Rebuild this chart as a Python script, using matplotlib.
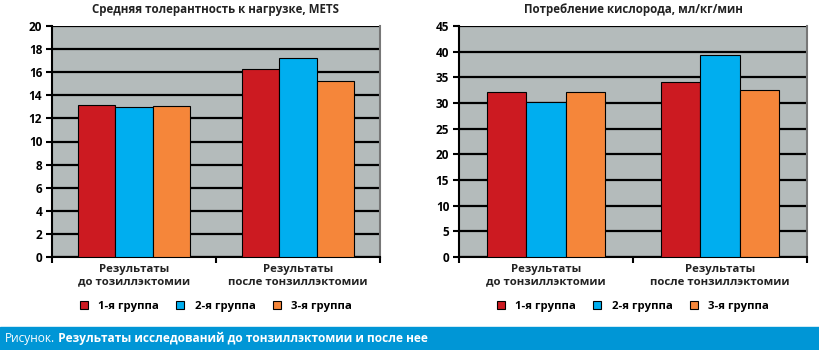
import numpy as np
import matplotlib.pyplot as plt
from matplotlib.patches import Rectangle

categories = ["Результаты\nдо тозиллэктомии", "Результаты\nпосле тонзиллэктомии"]
categories_right = ["Результаты\nдо тонзиллэктомии", "Результаты\nпосле тонзиллэктомии"]
groups = ["1-я группа", "2-я группа", "3-я группа"]
mets = [[13.2, 16.3], [12.95, 17.25], [13.05, 15.2]]
oxygen = [[32.1, 34.0], [30.1, 39.3], [32.1, 32.5]]
title_left = "Средняя толерантность к нагрузке, METS"
title_right = "Потребление кислорода, мл/кг/мин"
caption_a = "Рисунок."
caption_b = " Результаты исследований до тонзиллэктомии и после нее"

colors = ["#cc1a21", "#00aeef", "#f5863a"]
bg = "#b4bbbb"

plt.rcParams['font.family'] = ['Open Sans', 'DejaVu Sans']

fig = plt.figure(figsize=(8.19, 3.5), dpi=100)


def draw(ax, data, labels, title, ymax, step):
    x = np.arange(len(labels))
    w = 0.227
    for i, vals in enumerate(data):
        ax.bar(x + (i - 1) * w, vals, w, color=colors[i], edgecolor="black",
               linewidth=0.8, zorder=3, label=groups[i])
    ax.set_facecolor(bg)
    ax.set_xlim(-0.5, 1.5)
    ax.set_ylim(0, ymax)
    ax.set_yticks(np.arange(0, ymax + 1, step))
    ax.yaxis.grid(True, color="black", linewidth=1.6, zorder=1)
    ax.set_axisbelow(True)
    ax.set_xticks([-0.5, 0.5, 1.5])
    ax.set_xticklabels([])
    ax.set_xticks(x, minor=True)
    ax.set_xticklabels(labels, minor=True, fontsize=8.2, fontweight="bold",
                       color="#222222", linespacing=1.2)
    ax.tick_params(axis="x", which="minor", length=0, pad=5)
    ax.tick_params(axis="x", which="major", length=4, width=1.5, direction="out")
    ax.tick_params(axis="y", length=4, width=1.5, labelsize=8.5, pad=3)
    for lab in ax.get_yticklabels():
        lab.set_fontweight("bold")
    for s in ["left", "bottom"]:
        ax.spines[s].set_linewidth(1.5)
    ax.spines["top"].set_visible(False)
    ax.spines["right"].set_color("#777777")
    ax.spines["right"].set_linewidth(1.5)
    ax.set_title(title, fontsize=8.3, fontweight="bold", color="#222222", pad=9)
    ax.legend(loc="upper center", bbox_to_anchor=(0.5, -0.145), ncol=3, frameon=False,
              handlelength=0.7, handleheight=0.7, columnspacing=1.5,
              handletextpad=0.9, prop={"weight": "bold", "size": 8.2})


ax1 = fig.add_axes([52 / 819, 1 - 257 / 350, 328 / 819, 231 / 350])
draw(ax1, mets, categories, title_left, 20, 2)
ax2 = fig.add_axes([459 / 819, 1 - 257 / 350, 348 / 819, 231 / 350])
draw(ax2, oxygen, categories_right, title_right, 45, 5)

fig.patches.append(Rectangle((0, 0), 1, 23 / 350, transform=fig.transFigure,
                             color="#0096d6", zorder=0))
t = fig.text(5 / 819, 11.5 / 350, caption_a, color="white", fontsize=8.6, va="center")
fig.canvas.draw()
bb = t.get_window_extent()
fig.text(bb.x1 / 819, 11.5 / 350, caption_b, color="white", fontsize=8.6,
         fontweight="bold", va="center")

fig.savefig("out.png", dpi=100)
